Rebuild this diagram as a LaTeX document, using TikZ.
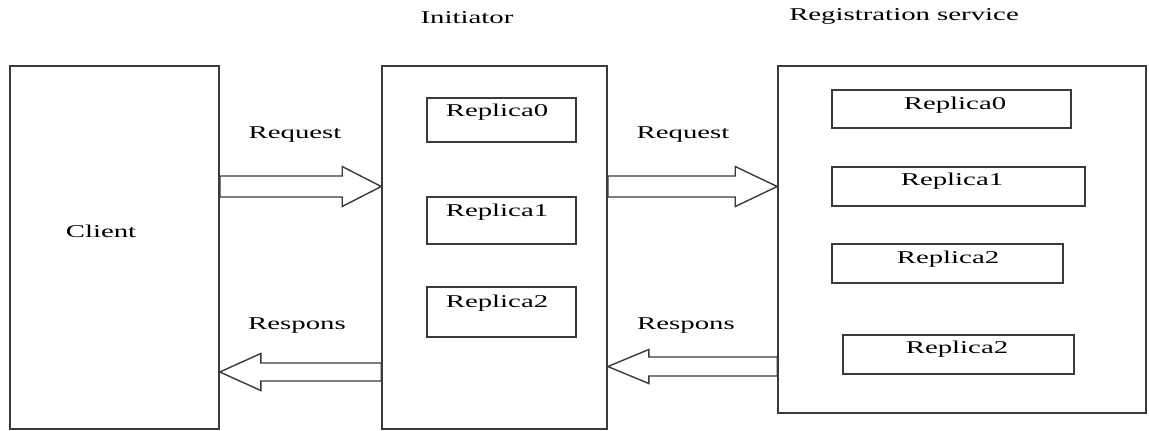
\documentclass[tikz,border=0pt]{standalone}
\usepackage{fontspec}
\setmainfont{Liberation Serif}[FakeStretch=1.6]
\usetikzlibrary{calc}
\definecolor{edge}{HTML}{3A3A3A}
\tikzset{
  box/.style={draw=edge, line width=0.8pt, fill=white, inner sep=0pt},
  txt/.style={inner sep=0pt, font=\fontsize{9}{11}\selectfont, text=black},
  blockarrow/.style={draw=edge, line width=0.7pt, fill=white, line join=miter},
}
% hollow block arrow: #1 tail, #2 tip, #3 half shaft, #4 half head, #5 signed head length
\newcommand\fatarrow[5]{%
  \draw[blockarrow] let \p1=(#1), \p2=(#2) in
    (\x1,\y2+#3) -- (\x2+#5,\y2+#3) -- (\x2+#5,\y2+#4) -- (\x2,\y2)
    -- (\x2+#5,\y2-#4) -- (\x2+#5,\y2-#3) -- (\x1,\y2-#3) -- cycle;}
\begin{document}
\begin{tikzpicture}[x=0.5pt, y=-0.5pt]
\useasboundingbox[fill=white] (0,0) rectangle (1149,430);

% titles
\node[txt] (ttlinit) at (467,18) {Initiator};
\node[txt] (ttlreg) at (904,16) {Registration service};

% main boxes
\node[box, minimum width=104.5pt, minimum height=181.5pt] (client) at (114.5,247.5) {};
\node[txt] (clienttxt) at (101,231) {Client};
\node[box, minimum width=112.5pt, minimum height=181.5pt] (init) at (494.5,247.5) {};
\node[box, minimum width=184pt, minimum height=173.5pt] (reg) at (962,239.5) {};

% replicas held by the initiator
\node[box, minimum width=74.5pt, minimum height=22pt] (i0) at (501.5,120) {};
\node[txt] (i0t) at (497,112) {Replica0};
\node[box, minimum width=74.5pt, minimum height=23.5pt] (i1) at (501.5,220.5) {};
\node[txt] (i1t) at (497,212) {Replica1};
\node[box, minimum width=74.5pt, minimum height=25pt] (i2) at (501.5,312) {};
\node[txt] (i2t) at (497,303) {Replica2};

% replicas held by the registration service
\node[box, minimum width=119.5pt, minimum height=19pt] (r0) at (951.5,109) {};
\node[txt] (r0t) at (955,105) {Replica0};
\node[box, minimum width=126.5pt, minimum height=19.5pt] (r1) at (958.5,186.5) {};
\node[txt] (r1t) at (952,181) {Replica1};
\node[box, minimum width=115.5pt, minimum height=19.5pt] (r2) at (947.5,263.5) {};
\node[txt] (r2t) at (948,259) {Replica2};
\node[box, minimum width=115.5pt, minimum height=19.5pt] (r3) at (958.5,354.5) {};
\node[txt] (r3t) at (957,349) {Replica2};

% arrow end points on the box sides
\coordinate (rq1a) at (client.east |- 0,186.5);
\coordinate (rq1b) at (init.west |- 0,186.5);
\coordinate (rs1a) at (init.west |- 0,372);
\coordinate (rs1b) at (client.east |- 0,372);
\coordinate (rq2a) at (init.east |- 0,186.5);
\coordinate (rq2b) at (reg.west |- 0,186.5);
\coordinate (rs2a) at (reg.west |- 0,366.5);
\coordinate (rs2b) at (init.east |- 0,366.5);

% request / response arrows
\fatarrow{rq1a}{rq1b}{5.25pt}{10pt}{-19.5pt}
\fatarrow{rs1a}{rs1b}{4.5pt}{9.25pt}{20.5pt}
\fatarrow{rq2a}{rq2b}{5.25pt}{10pt}{-21pt}
\fatarrow{rs2a}{rs2b}{4.75pt}{8.5pt}{20.5pt}

\node[txt] (rq1l) at (295,135) {Request};
\node[txt] (rs1l) at (297,326) {Respons};
\node[txt] (rq2l) at (683,135) {Request};
\node[txt] (rs2l) at (686,326) {Respons};
\end{tikzpicture}
\end{document}
